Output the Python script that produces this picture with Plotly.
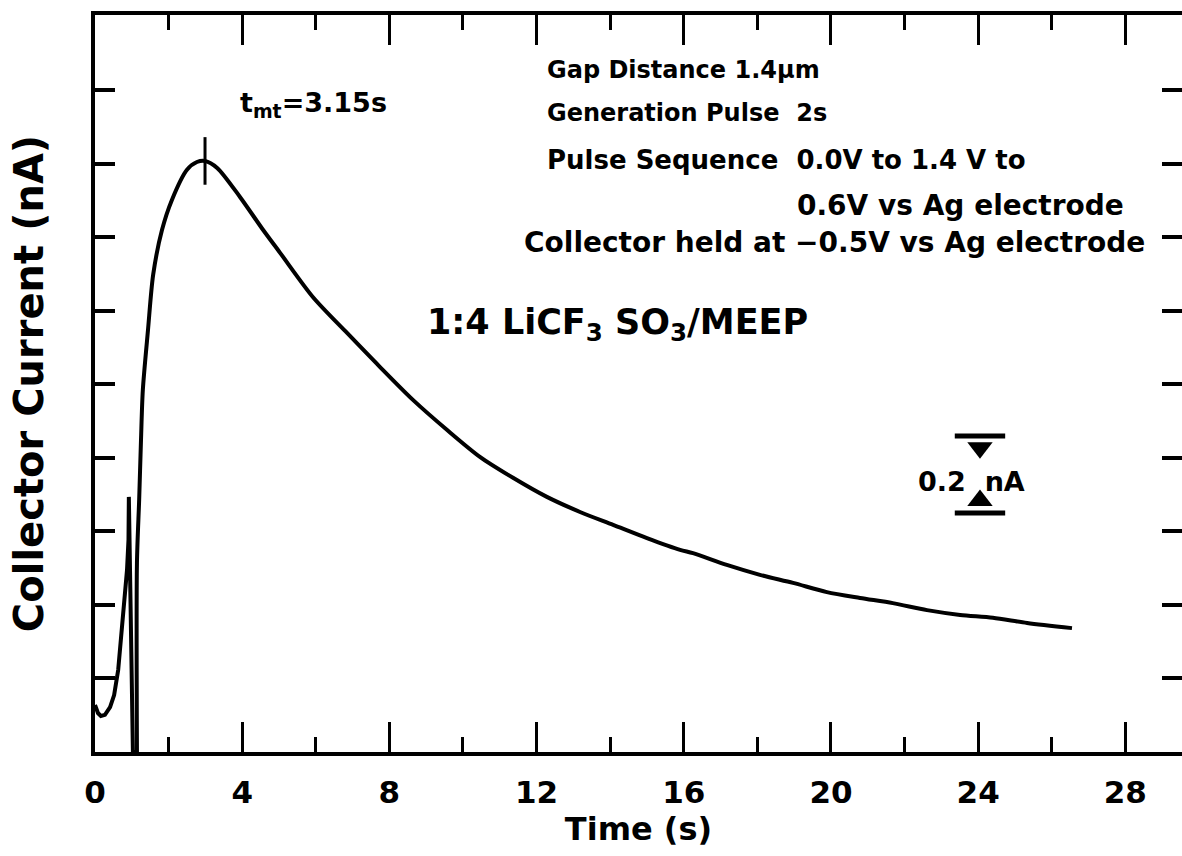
import plotly.graph_objects as go

# ---- data ----
time_s = [0.00, 0.08, 0.16, 0.27, 0.41, 0.52, 0.63, 0.71, 0.79, 0.87, 0.91, 0.92,
          1.03, 1.14, 1.14, 1.20, 1.25, 1.30, 1.44, 1.58, 1.82, 2.09, 2.50, 2.77,
          2.99, 3.32, 3.94, 4.57, 5.03, 5.92, 6.85, 7.74, 8.64, 9.57, 10.46, 11.36,
          12.28, 13.18, 14.08, 15.00, 15.90, 16.25, 17.17, 18.07, 18.97, 19.89, 20.79,
          21.68, 22.61, 23.51, 24.40, 25.33, 26.55]
current_nA = [0.128, 0.106, 0.098, 0.101, 0.122, 0.155, 0.223, 0.305, 0.400, 0.495, 0.577, 0.694,
              0.0, 0.0, 0.514, 0.686, 0.849, 0.985, 1.148, 1.298, 1.420, 1.502, 1.584, 1.605,
              1.608, 1.589, 1.510, 1.420, 1.358, 1.238, 1.140, 1.048, 0.958, 0.876, 0.803, 0.746,
              0.694, 0.653, 0.618, 0.582, 0.550, 0.541, 0.509, 0.482, 0.460, 0.435, 0.419,
              0.405, 0.386, 0.373, 0.365, 0.351, 0.337]
SPLIT = 14  # index where the pulse artefact ends and the smooth transient begins

peak_time = [2.99]
peak_current = [1.608]

x_tick_vals = [0, 4, 8, 12, 16, 20, 24, 28]
x_tick_text = ["0", "4", "8", "12", "16", "20", "24", "28"]
y_tick_vals = [0.2, 0.4, 0.6, 0.8, 1.0, 1.2, 1.4, 1.6, 1.8]

scale_x = 24.05
scale_low = 0.65
scale_high = 0.86
arrow_down_y = 0.828
arrow_up_y = 0.684

x_range = [0, 29.54]
y_range = [0, 2.005]

FONT = "DejaVu Sans"
BLACK = "#000000"

fig = go.Figure()

# pulse artefact part (sharp) and transient part (smooth)
fig.add_trace(go.Scatter(x=time_s[:SPLIT], y=current_nA[:SPLIT], mode="lines",
                         line=dict(color=BLACK, width=4), showlegend=False,
                         hoverinfo="skip"))
fig.add_trace(go.Scatter(x=time_s[SPLIT - 1:], y=current_nA[SPLIT - 1:], mode="lines",
                         line=dict(color=BLACK, width=4, shape="spline", smoothing=0.8),
                         showlegend=False, hoverinfo="skip"))

# peak marker
fig.add_trace(go.Scatter(x=peak_time, y=peak_current, mode="markers",
                         marker=dict(symbol="line-ns", size=34,
                                     line=dict(color=BLACK, width=3)),
                         showlegend=False, hoverinfo="skip"))

# scale bar caps
fig.add_trace(go.Scatter(x=[scale_x, scale_x], y=[scale_low, scale_high], mode="markers",
                         marker=dict(symbol="line-ew", size=36,
                                     line=dict(color=BLACK, width=5)),
                         showlegend=False, hoverinfo="skip"))
# scale bar arrowheads
fig.add_trace(go.Scatter(x=[scale_x, scale_x], y=[arrow_down_y, arrow_up_y], mode="markers",
                         marker=dict(symbol=["triangle-down", "triangle-up"], size=22,
                                     color=BLACK),
                         showlegend=False, hoverinfo="skip"))

txt_small = dict(family=FONT, size=24, color=BLACK, weight="bold")
txt = dict(family=FONT, size=26, color=BLACK, weight="bold")
txt_wide = dict(family=FONT, size=28, color=BLACK, weight="bold")

annots = [
    dict(x=3.89, y=1.761, text="t<sub>mt</sub>=3.15s", xanchor="left",
         font=dict(family=FONT, size=27, color=BLACK, weight="bold")),
    dict(x=12.23, y=1.856, text="Gap Distance 1.4\u03bcm", xanchor="left", font=txt_small),
    dict(x=12.23, y=1.739, text="Generation Pulse  2s", xanchor="left", font=txt_small),
    dict(x=12.23, y=1.611, text="Pulse Sequence  0.0V to 1.4 V to", xanchor="left", font=txt),
    dict(x=19.02, y=1.488, text="0.6V vs Ag electrode", xanchor="left", font=txt_wide),
    dict(x=11.60, y=1.385, text="Collector held at \u22120.5V vs Ag electrode", xanchor="left", font=txt_wide),
    dict(x=8.97, y=1.162, text="1:4 LiCF<sub>3</sub> SO<sub>3</sub>/MEEP", xanchor="left",
         font=dict(family=FONT, size=35, color=BLACK, weight="bold")),
    dict(x=23.83, y=0.735, text="0.2  nA", xanchor="center",
         font=dict(family=FONT, size=27, color=BLACK, weight="bold")),
]
for a in annots:
    a.update(showarrow=False, xref="x", yref="y", yanchor="middle")
fig.update_layout(annotations=annots)

fig.update_layout(
    width=1182, height=856,
    margin=dict(l=95, r=0, t=15, b=104),
    paper_bgcolor="white", plot_bgcolor="white",
    xaxis=dict(range=x_range, showgrid=False, zeroline=False,
               showline=True, linewidth=4, linecolor=BLACK, mirror="ticks",
               ticks="inside", ticklen=30, tickwidth=3, tickcolor=BLACK,
               tickvals=x_tick_vals, ticktext=x_tick_text,
               minor=dict(dtick=2, tick0=0, ticks="inside", ticklen=15,
                          tickwidth=3, tickcolor=BLACK, showgrid=False),
               tickfont=dict(family=FONT, size=31, color=BLACK, weight="bold"),
               ticklabelstandoff=10,
               title=dict(text="Time (s)", standoff=0,
                          font=dict(family=FONT, size=32, color=BLACK, weight="bold"))),
    yaxis=dict(range=y_range, showgrid=False, zeroline=False,
               showline=True, linewidth=4, linecolor=BLACK, mirror=False,
               ticks="inside", ticklen=20, tickwidth=4, tickcolor=BLACK,
               tickvals=y_tick_vals, showticklabels=False,
               title=dict(text="Collector Current (nA)", standoff=36,
                          font=dict(family=FONT, size=40, color=BLACK, weight="bold"))),
    yaxis2=dict(range=y_range, overlaying="y", side="right", showgrid=False,
                zeroline=False, showline=False,
                ticks="inside", ticklen=20, tickwidth=4, tickcolor=BLACK,
                tickvals=y_tick_vals, showticklabels=False),
)

# an invisible trace to activate the right-hand tick axis
fig.add_trace(go.Scatter(x=[x_range[0]], y=[y_range[0]], yaxis="y2", mode="markers",
                         marker=dict(opacity=0), showlegend=False, hoverinfo="skip"))

fig.write_html("out.html", include_plotlyjs=True, full_html=True,
               config={"displayModeBar": False},
               post_script="document.body.style.margin='0';document.body.style.overflow='hidden';")
